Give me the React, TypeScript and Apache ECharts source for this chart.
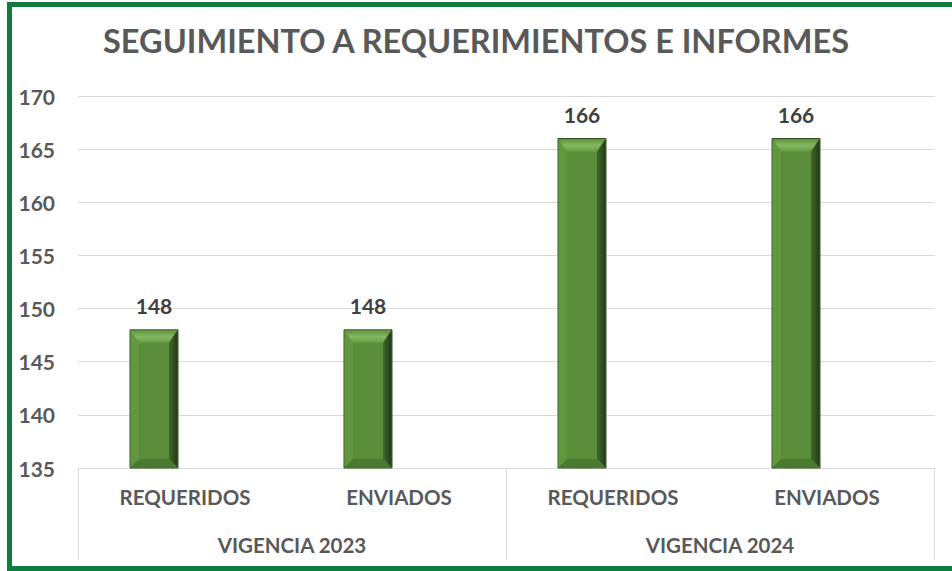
import React, { useEffect, useRef } from "react";
import * as echarts from "echarts";

const titleText = "SEGUIMIENTO A REQUERIMIENTOS E INFORMES";
const categories = ["REQUERIDOS", "ENVIADOS", "REQUERIDOS", "ENVIADOS"];
const groups = ["VIGENCIA 2023", "VIGENCIA 2024"];
const values = [148, 148, 166, 166];
const yMin = 135;
const yMax = 170;
const yInterval = 5;

const FONT = "Lato, 'Open Sans', sans-serif";
const BAR_W = 48;
const BAR_OFFSET = -31;
const BEVEL = 9;

export default function App() {
  const ref = useRef<HTMLDivElement>(null);
  useEffect(() => {
    if (!ref.current) return;
    const chart = echarts.init(ref.current, undefined, { renderer: "svg" });
    const option: any = {
      animation: false,
      backgroundColor: "#ffffff",
      title: {
        text: titleText,
        left: "center",
        top: 24,
        padding: [0, 0, 0, 12],
        textStyle: { fontFamily: FONT, fontWeight: "bold", fontSize: 32.5, color: "#595959" },
      },
      graphic: [
        {
          type: "rect",
          shape: { x: 9.5, y: 4.5, width: 1000, height: 564 },
          style: { fill: "none", stroke: "#0f7b3f", lineWidth: 5 },
          z: 100,
        },
      ],
      grid: { left: 78, right: 18, top: 96, bottom: 103, containLabel: false },
      xAxis: [
        {
          type: "category",
          data: categories,
          position: "bottom",
          axisLine: { show: true, lineStyle: { color: "#d9d9d9", width: 1 } },
          axisTick: { show: false },
          axisLabel: { margin: 18, fontFamily: FONT, fontWeight: "bold", fontSize: 20.5, color: "#595959" },
        },
        {
          type: "category",
          data: groups,
          position: "bottom",
          axisLine: { show: false },
          axisTick: { show: true, length: 92, lineStyle: { color: "#d9d9d9", width: 1 } },
          axisLabel: { margin: 66, fontFamily: FONT, fontWeight: "bold", fontSize: 20.5, color: "#595959" },
        },
      ],
      yAxis: {
        type: "value",
        min: yMin,
        max: yMax,
        interval: yInterval,
        axisLine: { show: false },
        axisTick: { show: false },
        splitLine: { lineStyle: { color: "#d9d9d9", width: 1 } },
        axisLabel: { margin: 23, fontFamily: FONT, fontWeight: "bold", fontSize: 21, color: "#595959" },
      },
      series: [
        {
          type: "custom",
          xAxisIndex: 0,
          yAxisIndex: 0,
          data: values.map((v, i) => [i, v]),
          renderItem: (params: any, api: any) => {
            const idx = api.value(0);
            const v = api.value(1);
            const top = api.coord([idx, v]);
            const base = api.coord([idx, yMin]);
            const cx = top[0] + BAR_OFFSET;
            const x0 = cx - BAR_W / 2;
            const x1 = cx + BAR_W / 2;
            const y0 = top[1];
            const y1 = base[1];
            const b = BEVEL;
            return {
              type: "group",
              children: [
                {
                  type: "rect",
                  shape: { x: x0, y: y0, width: BAR_W, height: y1 - y0 },
                  style: { fill: "#5b8c3a", stroke: "#31521f", lineWidth: 1 },
                },
                {
                  type: "polygon",
                  shape: { points: [[x0 + 0.5, y0 + 0.5], [x0 + b, y0 + b], [x0 + b, y1 - b], [x0 + 0.5, y1 - 0.5]] },
                  style: { fill: "#62963f" },
                },
                {
                  type: "polygon",
                  shape: { points: [[x0 + 0.5, y0 + 0.5], [x1 - 0.5, y0 + 0.5], [x1 - b, y0 + b + 4], [x0 + b, y0 + b + 4]] },
                  style: {
                    fill: new echarts.graphic.LinearGradient(0, 0, 0, 1, [
                      { offset: 0, color: "#5f9040" },
                      { offset: 0.5, color: "#84b860" },
                      { offset: 1, color: "#6a9c48" },
                    ]),
                  },
                },
                {
                  type: "polygon",
                  shape: { points: [[x1 - 0.5, y0 + 0.5], [x1 - 0.5, y1 - 0.5], [x1 - b, y1 - b], [x1 - b, y0 + b + 4]] },
                  style: {
                    fill: new echarts.graphic.LinearGradient(0, 0, 1, 0, [
                      { offset: 0, color: "#3f6a28" },
                      { offset: 1, color: "#22391a" },
                    ]),
                  },
                },
                {
                  type: "polygon",
                  shape: { points: [[x0 + 0.5, y1 - 0.5], [x1 - 0.5, y1 - 0.5], [x1 - b, y1 - b], [x0 + b, y1 - b]] },
                  style: { fill: "#4a7a2f" },
                },
                {
                  type: "text",
                  style: {
                    text: String(v),
                    x: cx,
                    y: y0 - 14,
                    align: "center",
                    verticalAlign: "bottom",
                    fontFamily: FONT,
                    fontWeight: "bold",
                    fontSize: 21,
                    fill: "#404040",
                  },
                },
              ],
            };
          },
        },
      ],
    };
    chart.setOption(option);
    return () => chart.dispose();
  }, []);
  return (
    <div
      ref={ref}
      style={{ position: "absolute", left: 0, top: 0, width: 952, height: 571 }}
    />
  );
}
